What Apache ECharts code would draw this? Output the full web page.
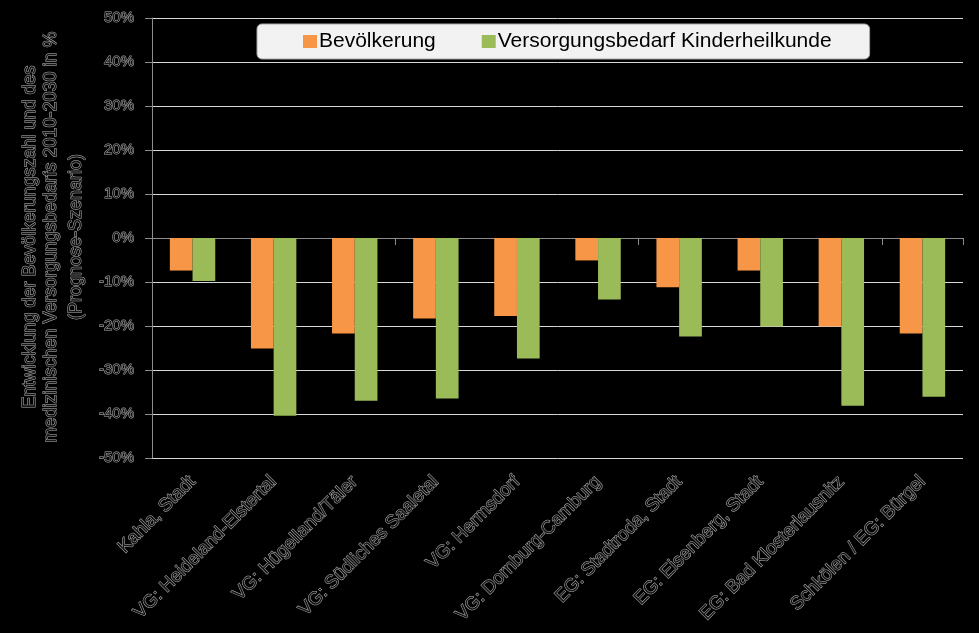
<!DOCTYPE html>
<html>
<head>
<meta charset="utf-8">
<script src="https://cdn.jsdelivr.net/npm/echarts@6/dist/echarts.min.js"></script>
<style>
html,body{margin:0;padding:0;background:#000;}
#chart{width:979px;height:633px;}
</style>
</head>
<body>
<div id="chart"></div>
<script>
const categories = ['Kahla, Stadt','VG: Heideland-Elstertal','VG: Hügelland/Täler','VG: Südliches Saaletal','VG: Hermsdorf','VG: Dornburg-Camburg','EG: Stadtroda, Stadt','EG: Eisenberg, Stadt','EG: Bad Klosterlausnitz','Schkölen / EG: Bürgel'];
const bevoelkerung = [-7.4, -25.1, -21.7, -18.3, -17.7, -5.1, -11.2, -7.4, -20.1, -21.7];
const versorgungsbedarf = [-9.8, -40.4, -37.0, -36.5, -27.4, -14.0, -22.4, -20.1, -38.1, -36.1];
const seriesNames = ['Bevölkerung','Versorgungsbedarf Kinderheilkunde'];
const yTitleLines = ['Entwicklung der Bevölkerungszahl und des','medizinischen Versorgungsbedarfs 2010-2030 in %','(Prognose-Szenario)'];

const textLook = {color:'#161616', textBorderColor:'#b0b0b0', textBorderWidth:1};
const titleStyle = {align:'center', verticalAlign:'middle', font:'18px "Liberation Sans"', fill:'#161616', stroke:'#b0b0b0', lineWidth:1};
const chart = echarts.init(document.getElementById('chart'));
chart.setOption({
  backgroundColor:'#000',
  animation:false,
  grid:{left:152, right:16, top:18, bottom:175, containLabel:false},
  legend:{
    left:257, top:24, padding:[7,38,7,46], itemGap:46, itemWidth:14, itemHeight:13,
    icon:'rect', backgroundColor:'#f2f2f2', borderColor:'#a6a6a6', borderWidth:1, borderRadius:5,
    textStyle:{fontFamily:'Liberation Sans', fontSize:21, color:'#000', padding:[0,0,0,-3]},
    data:seriesNames
  },
  xAxis:[
    {type:'category', data:categories, position:'bottom',
     axisLine:{show:false, onZero:false}, axisTick:{show:false},
     axisLabel:Object.assign({rotate:45, margin:21, interval:0, fontFamily:'Liberation Sans', fontSize:18.5}, textLook)},
    {type:'category', data:categories, position:'bottom',
     axisLine:{show:true, onZero:true, lineStyle:{color:'#8c8c8c', width:1}},
     axisTick:{show:true, length:7, lineStyle:{color:'#8c8c8c'}},
     axisLabel:{show:false}}
  ],
  yAxis:{type:'value', min:-50, max:50, interval:10,
    axisLine:{show:true, lineStyle:{color:'#8c8c8c'}},
    axisTick:{show:true, length:7, lineStyle:{color:'#8c8c8c'}},
    splitLine:{lineStyle:{color:'#d9d9d9', width:1}},
    axisLabel:Object.assign({formatter:v=>v+'%', margin:18, fontFamily:'Liberation Sans', fontSize:15}, textLook)
  },
  graphic:[
    {type:'text', x:30, y:237, rotation:Math.PI/2, style:Object.assign({text:yTitleLines[0]}, titleStyle)},
    {type:'text', x:51, y:237, rotation:Math.PI/2, style:Object.assign({text:yTitleLines[1]}, titleStyle)},
    {type:'text', x:76, y:237, rotation:Math.PI/2, style:Object.assign({text:yTitleLines[2]}, titleStyle)}
  ],
  series:[
    {name:seriesNames[0], type:'bar', data:bevoelkerung, barGap:'0%', barCategoryGap:'44%', itemStyle:{color:'#f79646'}},
    {name:seriesNames[1], type:'bar', data:versorgungsbedarf, barGap:'0%', barCategoryGap:'44%', itemStyle:{color:'#9bbb59'}}
  ]
});
</script>
</body>
</html>
